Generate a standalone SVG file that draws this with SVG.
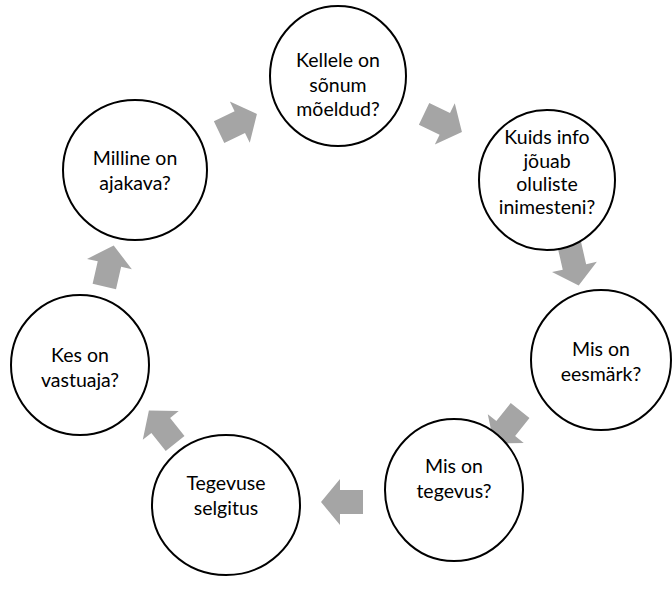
<svg xmlns="http://www.w3.org/2000/svg" width="672" height="596" viewBox="0 0 672 596">
<style>
.n{fill:#fff;stroke:#000;stroke-width:2}
.t{font-family:Lato,"Liberation Sans",sans-serif;font-size:19.5px;fill:#000;text-anchor:middle}
.a{fill:#a5a5a5}
</style>
<defs>
<polygon id="arr" points="-21,-12 2,-12 2,-23 21,0 2,23 2,12 -21,12"/>
</defs>
<rect width="672" height="596" fill="#fff"/>
<g id="connectors">
<use href="#arr" class="a" transform="translate(443,123) rotate(25.7)"/>
<use href="#arr" class="a" transform="translate(574,265) rotate(77.1)"/>
<use href="#arr" class="a" transform="translate(507,427) rotate(128.6)"/>
<use href="#arr" class="a" transform="translate(342,502) rotate(180)"/>
<use href="#arr" class="a" transform="translate(162,427) rotate(231.4)"/>
<use href="#arr" class="a" transform="translate(109,266) rotate(282.9)"/>
<use href="#arr" class="a" transform="translate(238,123) rotate(334.3)"/>
</g>
<g id="n1"><ellipse class="n" cx="338" cy="76" rx="68" ry="70"/>
<text class="t" x="338" y="67">Kellele on</text><text class="t" x="338" y="92">sõnum</text><text class="t" x="338" y="116">mõeldud?</text></g>
<g id="n2"><ellipse class="n" cx="547" cy="180" rx="68" ry="70"/>
<text class="t" x="547" y="144">Kuids info</text><text class="t" x="547" y="168">jõuab</text><text class="t" x="547" y="191">oluliste</text><text class="t" x="547" y="214">inimesteni?</text></g>
<g id="n3"><ellipse class="n" cx="601" cy="360" rx="70" ry="70"/>
<text class="t" x="601" y="356">Mis on</text><text class="t" x="601" y="381">eesmärk?</text></g>
<g id="n4"><ellipse class="n" cx="454" cy="490" rx="69" ry="71"/>
<text class="t" x="454" y="473">Mis on</text><text class="t" x="454" y="498">tegevus?</text></g>
<g id="n5"><ellipse class="n" cx="226" cy="505" rx="74" ry="70"/>
<text class="t" x="226" y="490">Tegevuse</text><text class="t" x="226" y="515">selgitus</text></g>
<g id="n6"><ellipse class="n" cx="80" cy="365" rx="69" ry="70"/>
<text class="t" x="80" y="362">Kes on</text><text class="t" x="80" y="387">vastuaja?</text></g>
<g id="n7"><ellipse class="n" cx="135" cy="170" rx="72" ry="70"/>
<text class="t" x="135" y="165">Milline on</text><text class="t" x="135" y="190">ajakava?</text></g>
</svg>
